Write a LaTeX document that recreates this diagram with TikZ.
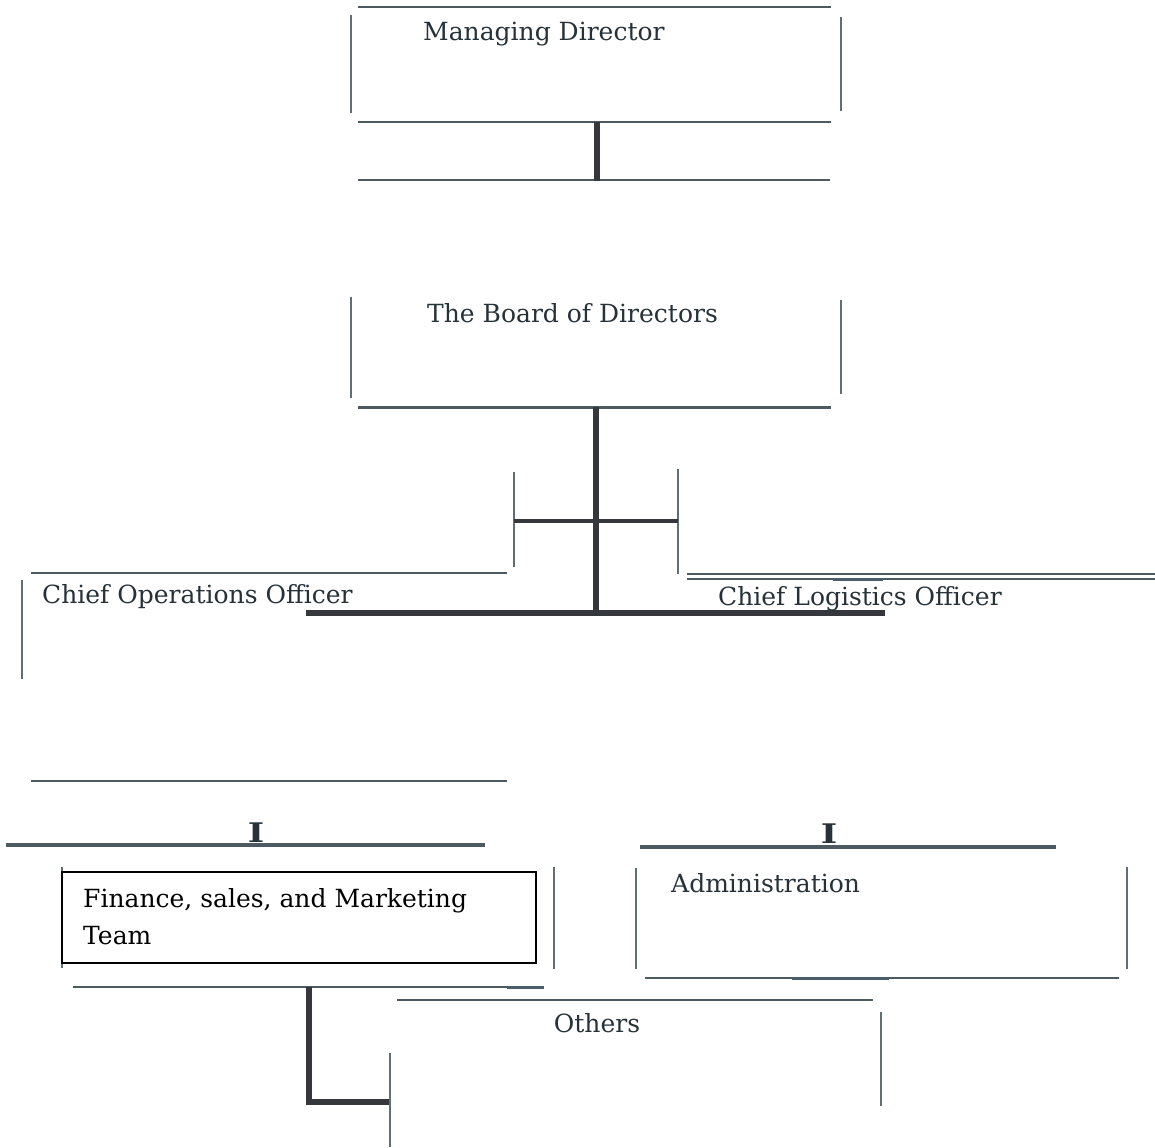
\documentclass[tikz,border=0pt]{standalone}
\usepackage{fontspec}
\setmainfont{DejaVu Serif}
\definecolor{linegray}{HTML}{4D5A61}
\definecolor{vgray}{HTML}{5F7075}
\definecolor{conngray}{HTML}{34373B}
\definecolor{textgray}{HTML}{263238}
\definecolor{segblue}{HTML}{4A5D6B}
\begin{document}
\begin{tikzpicture}[x=1pt,y=-1pt,
  hline/.style={draw=linegray, line width=2pt},
  vline/.style={draw=vgray, line width=1.8pt},
  conn/.style={draw=conngray, line width=5.5pt},
  bar/.style={draw=linegray, line width=4.5pt},
  seg/.style={draw=segblue, line width=3pt},
  lbl/.style={anchor=base west, inner sep=0pt, font=\fontsize{25}{30}\selectfont, text=textgray},
  ibeam/.style={anchor=base, inner sep=0pt, font=\bfseries\fontsize{27}{29}\selectfont, text=textgray}]
\useasboundingbox (0,0) rectangle (1155,1147);
\fill[white] (0,0) rectangle (1155,1147);

% Managing Director
\node[lbl] (md) at (423,41) {Managing Director};
\draw[hline] (358,7) -- (831,7);
\draw[vline] (351,15) -- (351,113);
\draw[vline] (841,17) -- (841,111);
\draw[hline] (358,122) -- (831,122);
\draw[hline] (358,180) -- (830,180);
\coordinate (mdb) at (597,122);
\coordinate (mdc) at (597,181);
\draw[conn] (mdb) -- (mdc);

% Board of Directors
\node[lbl] (bod) at (427,322) {The Board of Directors};
\draw[vline] (351,297) -- (351,398);
\draw[vline] (841,300) -- (841,394);
\draw[hline, line width=3pt] (358,407) -- (831,407);
\coordinate (bodb) at (596,407);
\coordinate (junc) at (596,615);
\draw[conn] (bodb) -- (junc);

% crossbar
\draw[vline] (514,472) -- (514,567);
\draw[vline] (678,469) -- (678,574);
\coordinate (cbl) at (514,521);
\coordinate (cbr) at (678,521);
\draw[conn, line width=4.5pt] (cbl) -- (cbr);

% COO
\node[lbl] (coo) at (42,603) {Chief Operations Officer};
\draw[hline] (31,573) -- (507,573);
\draw[vline] (22,580) -- (22,679);
\draw[hline] (31,781) -- (507,781);

% thick bar
\coordinate (tbl) at (306,613);
\coordinate (tbr) at (885,613);
\draw[conn] (tbl) -- (tbr);

% CLO
\draw[hline, line width=1.8pt] (687,574) -- (1155,574);
\draw[hline, line width=1.8pt] (687,579) -- (1155,579);
\draw[seg] (833,579) -- (883,579);
\node[lbl] (clo) at (718,605) {Chief Logistics Officer};

% left I and bar
\node[ibeam] (il) at (256,842) {\scalebox{1.3}[1]{I}};
\draw[bar] (6,845) -- (485,845);
% right I and bar
\node[ibeam] (ir) at (829,843) {\scalebox{1.3}[1]{I}};
\draw[bar] (640,847) -- (1056,847);

% Finance box
\draw[vline] (62,867) -- (62,968);
\draw[vline] (554,867) -- (554,969);
\draw[black, line width=1.5pt] (62,872) rectangle (536,963);
\node[lbl, text=black] (fsm) at (83,907) {Finance, sales, and Marketing};
\node[lbl, text=black] (team) at (83,944) {Team};
\draw[hline] (73,987) -- (544,987);
\draw[seg] (507,987.5) -- (544,987.5);

% Administration
\node[lbl] (adm) at (671,892) {Administration};
\draw[vline] (636,868) -- (636,969);
\draw[vline] (1127,867) -- (1127,969);
\draw[hline] (645,978) -- (1119,978);
\draw[seg] (792,978) -- (889,978);

% Others
\node[lbl, anchor=base] (oth) at (597,1032) {Others};
\draw[hline, line width=1.8pt] (397,1000) -- (873,1000);
\draw[vline] (390,1053) -- (390,1147);
\draw[vline] (881,1012) -- (881,1106);
\coordinate (fsmb) at (309,987);
\coordinate (elb) at (309,1102);
\coordinate (othl) at (389,1102);
\draw[conn] (fsmb) -- (elb) -- (othl);
\end{tikzpicture}
\end{document}
